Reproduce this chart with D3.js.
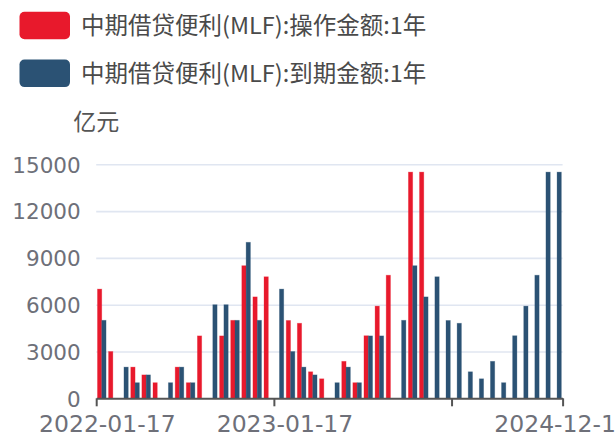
<!DOCTYPE html>
<html>
<head>
<meta charset="utf-8">
<script src="https://cdn.jsdelivr.net/npm/d3@7/dist/d3.min.js"></script>
<style>
  html, body { margin: 0; padding: 0; background: #fff; }
  svg { display: block; }
</style>
</head>
<body>
<svg id="chart" width="616" height="440"></svg>
<script>
const categories = [
  "2022-01-17","2022-02-15","2022-02-16","2022-03-15","2022-04-15","2022-05-16","2022-05-17",
  "2022-06-15","2022-07-15","2022-08-15","2022-08-16","2022-09-15","2022-10-17","2022-11-15",
  "2022-12-15","2023-01-16","2023-01-17","2023-02-15","2023-03-15","2023-04-17","2023-05-15",
  "2023-05-16","2023-06-15","2023-07-17","2023-08-15","2023-09-15","2023-10-16","2023-10-17",
  "2023-11-15","2023-12-15","2024-01-16","2024-02-18","2024-03-15","2024-04-16","2024-05-15",
  "2024-06-15","2024-07-17","2024-08-15","2024-09-15","2024-10-16","2024-11-15","2024-12-16"
];
const operation = [
  7000, 3000, null, 2000, 1500, 1000, null, 2000, 1000, 4000, null, 4000, 5000, 8500,
  6500, 7790, null, 4990, 4810, 1700, 1250, null, 2370, 1000, 4010, 5910, 7890, null,
  14500, 14500, null, null, null, null, null, null, null, null, null, null, null, null
];
const maturity = [
  5000, null, 2000, 1000, 1500, null, 1000, 2000, 1000, null, 6000, 6000, 5000, 10000,
  5000, null, 7000, 3000, 2000, 1500, null, 1000, 2000, 1000, 4000, 4000, null, 5000,
  8500, 6500, 7790, 4990, 4810, 1700, 1250, 2370, 1000, 4010, 5910, 7890, 14500, 14500
];
const seriesNames = ["中期借贷便利(MLF):操作金额:1年", "中期借贷便利(MLF):到期金额:1年"];
const yTicks = [0, 3000, 6000, 9000, 12000, 15000];
const xLabelIndex = [0, 16, 41];
const xTickBoundaries = [0, 16, 32, 42];
const unitName = "亿元";

(function () {
const colors = ["#e8192c", "#2b5274"];
const pLeft = 96.2, pRight = 562.6, pTop = 164.3, pBottom = 398.3;

const svg = d3.select("#chart");

const x = d3.scaleBand().domain(categories).range([pLeft, pRight]).padding(0);
const bw = x.bandwidth();
const xInner = d3.scaleBand().domain([0, 1]).range([bw * 0.113, bw * 0.887]).padding(0);
const xBound = d3.scaleLinear().domain([0, categories.length]).range([pLeft, pRight]);
const y = d3.scaleLinear().domain([0, 15000]).range([pBottom, pTop]);

// grid lines
const grid = svg.append("g").attr("transform", `translate(${pLeft},0)`)
  .call(d3.axisLeft(y).tickValues(yTicks.filter(v => v > 0)).tickSize(-(pRight - pLeft)).tickFormat(""));
grid.select(".domain").remove();
grid.selectAll("line").attr("stroke", "#e0e6f1").attr("stroke-width", 1.6);

// y labels
const yAx = svg.append("g").attr("transform", `translate(${pLeft - 15.5},0)`)
  .call(d3.axisLeft(y).tickValues(yTicks).tickSize(0).tickPadding(0).tickFormat(d3.format("d")));
yAx.select(".domain").remove();
yAx.selectAll("text").attr("fill", "#6e7079").attr("font-family", "DejaVu Sans")
  .attr("font-size", 21.5).attr("dy", "0.36em");

// bars
const seriesData = [operation, maturity];
seriesData.forEach((arr, si) => {
  svg.append("g").selectAll("rect")
    .data(arr.map((v, i) => ({ v, c: categories[i] })).filter(d => d.v != null))
    .join("rect")
    .attr("x", d => x(d.c) + xInner(si))
    .attr("width", xInner.bandwidth())
    .attr("y", d => y(d.v))
    .attr("height", d => y(0) - y(d.v))
    .attr("fill", colors[si])
    .attr("stroke", colors[si])
    .attr("stroke-opacity", 0.35)
    .attr("stroke-width", 0.8);
});

// x axis line + ticks at boundaries
const xAxT = svg.append("g").attr("transform", `translate(0,${pBottom})`)
  .call(d3.axisBottom(xBound).tickValues(xTickBoundaries).tickSize(8).tickSizeOuter(0).tickFormat(""));
xAxT.select(".domain").attr("stroke", "#555").attr("stroke-width", 2);
xAxT.selectAll(".tick line").attr("stroke", "#555").attr("stroke-width", 2);

// x labels at category centers
const xAxL = svg.append("g").attr("transform", `translate(${bw / 2},${pBottom})`)
  .call(d3.axisBottom(x).tickValues(xLabelIndex.map(i => categories[i])).tickSize(0).tickPadding(0));
xAxL.select(".domain").remove();
xAxL.selectAll("text").attr("fill", "#6e7079").attr("font-family", "DejaVu Sans")
  .attr("font-size", 23.5).attr("y", 34).attr("dy", 0);

// unit name
svg.append("text").attr("x", pLeft).attr("y", 130).attr("text-anchor", "middle")
  .attr("font-family", "Noto Sans CJK SC").attr("font-size", 23).attr("fill", "#555")
  .text(unitName);

// legend
const legend = svg.append("g");
seriesNames.forEach((name, i) => {
  const cy = 25.5 + i * 47.8;
  legend.append("rect").attr("x", 19.5).attr("y", cy - 13.8).attr("width", 50.5).attr("height", 27.6)
    .attr("rx", 5).attr("fill", colors[i]);
  legend.append("text").attr("x", 81).attr("y", cy).attr("dy", "0.36em")
    .attr("font-family", "Noto Sans CJK SC").attr("font-size", 23.5).attr("fill", "#4a4a4a")
    .text(name);
});
})();
</script>
</body>
</html>
